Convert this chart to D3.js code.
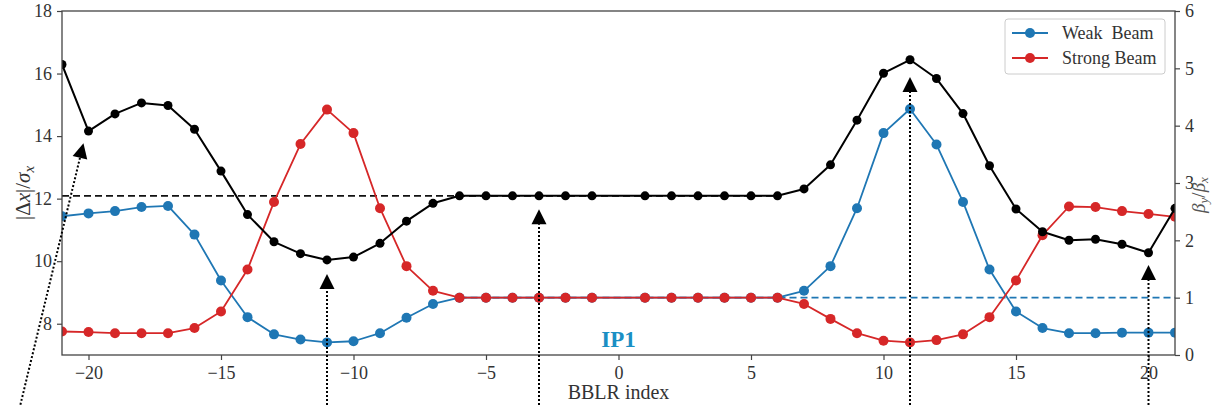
<!DOCTYPE html>
<html>
<head>
<meta charset="utf-8">
<script src="https://cdn.jsdelivr.net/npm/d3@7"></script>
<style>
  html, body { margin: 0; padding: 0; background: #fff; }
  svg { display: block; }
  text { font-family: "Liberation Serif", "DejaVu Serif", serif; fill: #222; }
</style>
</head>
<body>
<svg id="chart" width="1213" height="405"></svg>
<script>
// BBLR indices (no encounter at the IP itself, index 0)
const bblrIndex = [-21,-20,-19,-18,-17,-16,-15,-14,-13,-12,-11,-10,-9,-8,-7,-6,-5,-4,-3,-2,-1,
                   1,2,3,4,5,6,7,8,9,10,11,12,13,14,15,16,17,18,19,20,21];

// normalised separation |Δx|/σx (left axis)
const separation = [16.29,14.16,14.71,15.06,14.98,14.22,12.88,11.49,10.62,10.24,10.04,10.13,10.57,11.28,11.85,12.09,12.09,12.09,12.09,12.09,12.09,
                    12.09,12.09,12.09,12.09,12.09,12.09,12.31,13.08,14.51,16.01,16.44,15.84,14.72,13.05,11.67,10.94,10.67,10.70,10.54,10.27,11.69];

// beta ratio βy/βx for each beam (right axis)
const weakBeam = [2.42,2.47,2.51,2.58,2.60,2.10,1.30,0.66,0.36,0.27,0.22,0.24,0.38,0.65,0.89,1.00,1.00,1.00,1.00,1.00,1.00,
                  1.00,1.00,1.00,1.00,1.00,1.00,1.12,1.55,2.56,3.87,4.29,3.67,2.67,1.49,0.76,0.47,0.38,0.38,0.39,0.39,0.39];
const strongBeam = [0.41,0.40,0.38,0.38,0.38,0.47,0.76,1.49,2.67,3.68,4.28,3.87,2.56,1.55,1.12,1.00,1.00,1.00,1.00,1.00,1.00,
                    1.00,1.00,1.00,1.00,1.00,1.00,0.89,0.63,0.38,0.25,0.22,0.26,0.36,0.66,1.30,2.09,2.59,2.58,2.51,2.46,2.41];

// reference levels: round-optics separation and unit beta ratio
const sepReference = { x0: -21, x1: 6, value: 12.09 };
const ratioReference = { x0: -6, x1: 21, value: 1.0 };

// tick labels
const xTicks = [-20,-15,-10,-5,0,5,10,15,20];
const yLeftTicks = [8,10,12,14,16,18];
const yRightTicks = [0,1,2,3,4,5,6];

// annotation arrows [tailX, tailY, tipX, tipY] on the separation scale
const arrows = [
  [-22.57, 5.41, -20.19, 13.77],
  [-11, 5.4, -11, 9.59],
  [-3, 5.4, -3, 11.66],
  [11, 5.4, 11, 15.89],
  [20, 5.4, 20, 9.88]
];

const svg = d3.select("#chart");
const m = { left: 62, right: 1175, top: 11, bottom: 355 };

const x = d3.scaleLinear().domain([-21, 21]).range([m.left, m.right]);
const yL = d3.scaleLinear().domain([7, 18]).range([m.bottom, m.top]);
const yR = d3.scaleLinear().domain([0, 6]).range([m.bottom, m.top]);

svg.append("defs").append("clipPath").attr("id", "plotClip")
  .append("rect").attr("x", m.left).attr("y", m.top)
  .attr("width", m.right - m.left).attr("height", m.bottom - m.top);

const plot = svg.append("g").attr("clip-path", "url(#plotClip)");

const blue = "#1f77b4", red = "#d62728";

// reference dashed lines
plot.append("line")
  .attr("x1", x(sepReference.x0)).attr("x2", x(sepReference.x1))
  .attr("y1", yL(sepReference.value)).attr("y2", yL(sepReference.value))
  .attr("stroke", "#111").attr("stroke-width", 1.8).attr("stroke-dasharray", "7,4");
plot.append("line")
  .attr("x1", x(ratioReference.x0)).attr("x2", x(ratioReference.x1))
  .attr("y1", yR(ratioReference.value)).attr("y2", yR(ratioReference.value))
  .attr("stroke", blue).attr("stroke-width", 1.8).attr("stroke-dasharray", "7,4");

function drawSeries(values, yScale, color, width, radius) {
  const pts = bblrIndex.map((b, i) => [b, values[i]]);
  plot.append("path").datum(pts)
    .attr("fill", "none").attr("stroke", color).attr("stroke-width", width)
    .attr("stroke-linejoin", "round")
    .attr("d", d3.line().x(d => x(d[0])).y(d => yScale(d[1])));
  plot.append("g").selectAll("circle").data(pts).join("circle")
    .attr("cx", d => x(d[0])).attr("cy", d => yScale(d[1]))
    .attr("r", radius).attr("fill", color);
}

drawSeries(weakBeam, yR, blue, 1.8, 5);
drawSeries(strongBeam, yR, red, 1.8, 5);
drawSeries(separation, yL, "#000", 2, 4.5);

// IP label
svg.append("text").attr("x", x(0)).attr("y", 347)
  .attr("text-anchor", "middle").attr("font-size", 23).attr("font-weight", "bold")
  .style("fill", "#1a8fc4").text("IP1");

// frame
svg.append("rect").attr("x", m.left).attr("y", m.top)
  .attr("width", m.right - m.left).attr("height", m.bottom - m.top)
  .attr("fill", "none").attr("stroke", "#444").attr("stroke-width", 1.3);

// axes
const intFmt = d3.format("d");
const ax = svg.append("g").attr("transform", `translate(0,${m.bottom})`)
  .call(d3.axisBottom(x).tickValues(xTicks).tickSize(5).tickPadding(6)
    .tickFormat(d => d < 0 ? "\u2212" + Math.abs(d) : intFmt(d)));
const al = svg.append("g").attr("transform", `translate(${m.left},0)`)
  .call(d3.axisLeft(yL).tickValues(yLeftTicks).tickSize(5).tickPadding(5).tickFormat(intFmt));
const ar = svg.append("g").attr("transform", `translate(${m.right},0)`)
  .call(d3.axisRight(yR).tickValues(yRightTicks).tickSize(5).tickPadding(5).tickFormat(intFmt));
[ax, al, ar].forEach(g => {
  g.select(".domain").remove();
  g.selectAll(".tick line").attr("stroke", "#444").attr("stroke-width", 1.2);
  g.selectAll(".tick text").attr("font-size", 18)
    .attr("font-family", "'Liberation Serif', serif").style("fill", "#333");
});

// axis titles
svg.append("text").attr("x", x(0)).attr("y", 399)
  .attr("text-anchor", "middle").attr("font-size", 20).style("fill", "#333").text("BBLR index");

const lt = svg.append("text").attr("transform", `translate(30,${(m.top + m.bottom) / 2 + 10}) rotate(-90)`)
  .attr("text-anchor", "middle").attr("font-size", 21).style("fill", "#333");
lt.append("tspan").text("|\u0394");
lt.append("tspan").attr("font-style", "italic").text("x");
lt.append("tspan").text("|/");
lt.append("tspan").attr("font-style", "italic").text("\u03C3");
lt.append("tspan").attr("font-style", "italic").attr("font-size", 15).attr("dy", 4).text("x");

const rt = svg.append("text").attr("transform", `translate(1205,${(m.top + m.bottom) / 2 + 12}) rotate(-90)`)
  .attr("text-anchor", "middle").attr("font-size", 19).style("fill", "#555");
rt.append("tspan").attr("font-style", "italic").text("\u03B2");
rt.append("tspan").attr("font-style", "italic").attr("font-size", 13).attr("dy", 3).text("y");
rt.append("tspan").attr("dy", -3).text("/");
rt.append("tspan").attr("font-style", "italic").text("\u03B2");
rt.append("tspan").attr("font-style", "italic").attr("font-size", 13).attr("dy", 3).text("x");

// annotation arrows
const arrowG = svg.append("g");
arrows.forEach(([x0, y0, x1, y1]) => {
  const px0 = x(x0), py0 = yL(y0), px1 = x(x1), py1 = yL(y1);
  const ang = Math.atan2(py1 - py0, px1 - px0);
  const headLen = 15, headHalf = 7.5;
  const bx = px1 - headLen * Math.cos(ang), by = py1 - headLen * Math.sin(ang);
  arrowG.append("line").attr("x1", px0).attr("y1", py0).attr("x2", bx).attr("y2", by)
    .attr("stroke", "#000").attr("stroke-width", 2).attr("stroke-dasharray", "2,2");
  const nx = -Math.sin(ang), ny = Math.cos(ang);
  arrowG.append("path")
    .attr("d", `M${px1},${py1}L${bx + nx * headHalf},${by + ny * headHalf}L${bx - nx * headHalf},${by - ny * headHalf}Z`)
    .attr("fill", "#000");
});

// legend
const lg = svg.append("g").attr("transform", "translate(1005,19)");
lg.append("rect").attr("width", 160).attr("height", 55).attr("rx", 3)
  .attr("fill", "#fff").attr("fill-opacity", 0.85).attr("stroke", "#ccc");
[["Weak  Beam", blue], ["Strong Beam", red]].forEach(([label, c], i) => {
  const yy = 14 + i * 25;
  lg.append("line").attr("x1", 7).attr("x2", 43).attr("y1", yy).attr("y2", yy)
    .attr("stroke", c).attr("stroke-width", 1.8);
  lg.append("circle").attr("cx", 25).attr("cy", yy).attr("r", 5).attr("fill", c);
  lg.append("text").attr("x", 57).attr("y", yy + 6).attr("font-size", 18)
    .style("fill", "#333").style("white-space", "pre").text(label);
});
</script>
</body>
</html>
